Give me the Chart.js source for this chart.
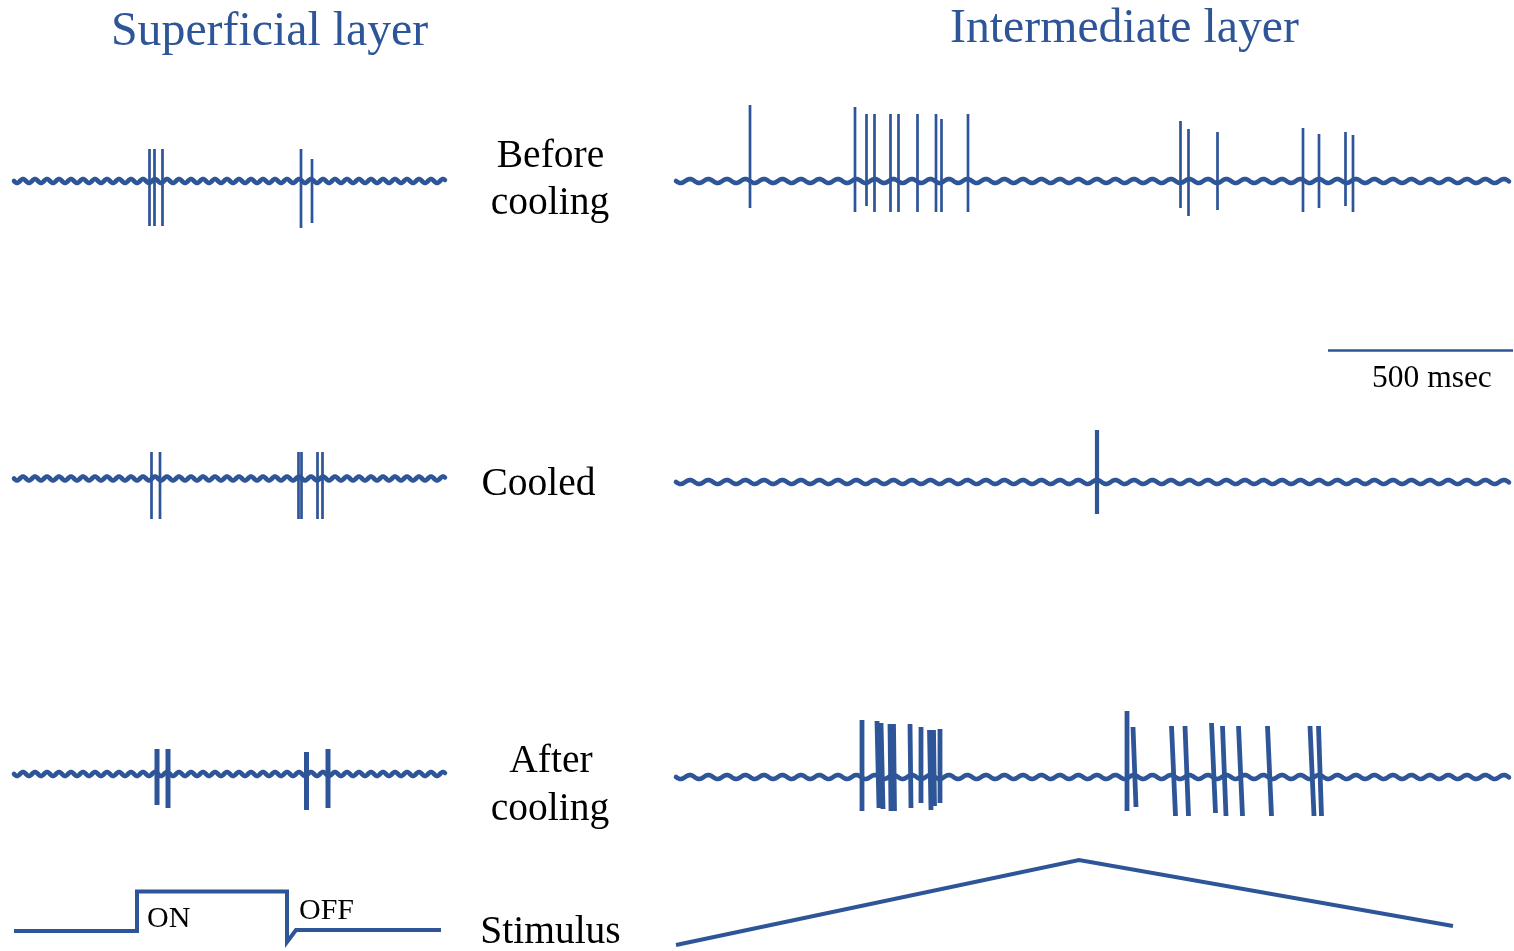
<!DOCTYPE html>
<html>
<head>
<meta charset="utf-8">
<script src="https://cdn.jsdelivr.net/npm/chart.js@4.4.1/dist/chart.umd.min.js"></script>
<style>
  html, body { margin: 0; padding: 0; background: #fff; overflow: hidden; }
  #wrap { position: relative; width: 1514px; height: 951px; }
  #chart { position: absolute; left: 0; top: 0; }
  .lbl { position: absolute; font-family: "Liberation Serif", "Times New Roman", serif; white-space: nowrap; line-height: 1; }
</style>
</head>
<body>
<div id="wrap"><canvas id="chart" width="1514" height="951"></canvas></div>
<script>
// figure units: x runs left->right, y runs top->bottom
const leftRange = [14, 445];
const rightRange = [676, 1509];
const leftBaselineY = [181, 478.5, 774];   // before, cooled, after
const rightBaselineY = [181, 482, 777];

// spikes: [xTop, yTop, xBottom, yBottom]
const leftBeforeSpikes = [
  [149.5, 149, 149.5, 226], [154.5, 149, 154.5, 226], [162.5, 149, 162.5, 226],
  [301, 149, 301, 228], [312, 159, 312, 223]
];
const leftCooledSpikes = [
  [151.5, 452, 151.5, 519], [160, 452, 160, 519],
  [298.5, 452, 298.5, 519], [301.5, 452, 301.5, 519],
  [317.5, 452, 317.5, 519], [322.5, 452, 322.5, 519]
];
const leftAfterSpikes = [
  [157, 749, 157, 805], [168, 749, 168, 808],
  [306.5, 752, 306.5, 810], [328, 749, 328, 808]
];
const rightBeforeSpikes = [
  [750, 105, 750, 208], [855, 107, 855, 212], [866.5, 114, 866.5, 206],
  [874.5, 114, 874.5, 212], [890.5, 114, 890.5, 212], [898.5, 114, 898.5, 212],
  [917.5, 114, 917.5, 212], [936, 114, 936, 212], [941.5, 119, 941.5, 212],
  [968, 114, 968, 212],
  [1180.5, 121, 1180.5, 208], [1188.5, 129, 1188.5, 216], [1217.5, 132, 1217.5, 210],
  [1303, 128, 1303, 212], [1319, 134, 1319, 208], [1345.5, 132, 1345.5, 206],
  [1353, 135, 1353, 212]
];
const rightCooledSpikes = [
  [1097, 430, 1097, 514]
];
const rightAfterSpikes = [
  [862, 720, 862, 811], [877, 721, 879, 808], [881, 723, 883, 809],
  [890, 724, 891, 811], [893.5, 724, 894.5, 811], [910, 724, 911, 808],
  [921, 727, 921, 803], [929.5, 730, 931, 810], [933.5, 730, 934.5, 806],
  [940, 729, 940, 803],
  [1127, 711, 1127, 811], [1133, 727, 1136, 807],
  [1171.5, 726, 1175.5, 816], [1185, 726, 1188.5, 816],
  [1211.5, 723, 1215.5, 813], [1222.5, 726, 1226, 816],
  [1238.5, 726, 1242.5, 816], [1267.5, 726, 1271.5, 816],
  [1310, 726, 1314, 816], [1318.5, 726, 1321.5, 816]
];

const leftStimulus = [[14, 931], [137, 931], [137, 891.5], [287, 891.5], [287, 942], [296, 930], [441, 930]];
const rightStimulus = [[676, 945], [1079, 860], [1453, 926]];
const scaleBar = [[1328, 350.5], [1513, 350.5]];

const blue = '#2E5597';

function spikeData(spikes) {
  return spikes.flatMap(s => [{ x: s[0], y: s[1] }, { x: s[2], y: s[3] }, { x: s[2], y: null }]);
}
function pathData(pts) {
  return pts.map(p => ({ x: p[0], y: p[1] }));
}
function baseline(range, y, period) {
  return {
    data: [{ x: range[0], y: y }, { x: range[1], y: y }],
    showLine: false, pointRadius: 0, wave: { period: period, amp: 2, width: 4.6 }
  };
}
function lineSet(data, width) {
  return {
    data: data, showLine: true, borderColor: blue, borderWidth: width,
    pointRadius: 0, spanGaps: false, borderCapStyle: 'butt', borderJoinStyle: 'miter', clip: false
  };
}

const datasets = [
  ...leftBaselineY.map(y => baseline(leftRange, y, 12)),
  ...rightBaselineY.map(y => baseline(rightRange, y, 18.5)),
  lineSet(spikeData(leftBeforeSpikes), 2.7),
  lineSet(spikeData(leftCooledSpikes), 2.7),
  lineSet(spikeData(leftAfterSpikes), 5),
  lineSet(spikeData(rightBeforeSpikes), 2.7),
  lineSet(spikeData(rightCooledSpikes), 4.2),
  lineSet(spikeData(rightAfterSpikes), 4.8),
  lineSet(pathData(leftStimulus), 4),
  lineSet(pathData(rightStimulus), 4),
  lineSet(pathData(scaleBar), 2.6)
];

// draws the noisy (wavy) baseline between the two points of a baseline dataset
const waveLine = {
  id: 'waveLine',
  beforeDatasetsDraw(chart) {
    const ctx = chart.ctx;
    chart.data.datasets.forEach((ds, i) => {
      if (!ds.wave) return;
      const pts = chart.getDatasetMeta(i).data;
      const x0 = pts[0].x, x1 = pts[1].x, y = pts[0].y;
      ctx.save();
      ctx.strokeStyle = blue;
      ctx.lineWidth = ds.wave.width;
      ctx.lineJoin = 'round';
      ctx.lineCap = 'round';
      ctx.beginPath();
      for (let x = x0; x <= x1; x += 1) {
        const yy = y + ds.wave.amp * Math.sin((x - x0) / ds.wave.period * 2 * Math.PI);
        if (x === x0) ctx.moveTo(x, yy); else ctx.lineTo(x, yy);
      }
      ctx.stroke();
      ctx.restore();
    });
  }
};

new Chart(document.getElementById('chart'), {
  type: 'scatter',
  data: { datasets: datasets },
  options: {
    responsive: false,
    animation: false,
    devicePixelRatio: 1,
    layout: { padding: 0 },
    plugins: { legend: { display: false }, tooltip: { enabled: false } },
    scales: {
      x: { type: 'linear', min: 0, max: 1514, display: false },
      y: { type: 'linear', min: 0, max: 951, reverse: true, display: false }
    }
  },
  plugins: [waveLine]
});

// text labels (real text), positioned by baseline
function addLabel(text, x, base, size, color, align) {
  const d = document.createElement('div');
  d.className = 'lbl';
  d.textContent = text;
  d.style.fontSize = size + 'px';
  d.style.color = color;
  d.style.left = x + 'px';
  d.style.top = (base - 0.8375 * size) + 'px';
  if (align === 'center') d.style.transform = 'translateX(-50%)';
  document.getElementById('wrap').appendChild(d);
}
addLabel('Superficial layer', 111, 45, 47.8, blue);
addLabel('Intermediate layer', 950, 42, 47.8, blue);
addLabel('Before', 550.5, 168, 39.5, '#000', 'center');
addLabel('cooling', 550, 215, 39.5, '#000', 'center');
addLabel('Cooled', 538.5, 496, 39.5, '#000', 'center');
addLabel('After', 551, 773, 39.5, '#000', 'center');
addLabel('cooling', 550, 821, 39.5, '#000', 'center');
addLabel('Stimulus', 550.5, 944, 39.5, '#000', 'center');
addLabel('ON', 147, 927, 30, '#000');
addLabel('OFF', 299, 919, 30, '#000');
addLabel('500 msec', 1372, 387, 31.5, '#000');
</script>
</body>
</html>
